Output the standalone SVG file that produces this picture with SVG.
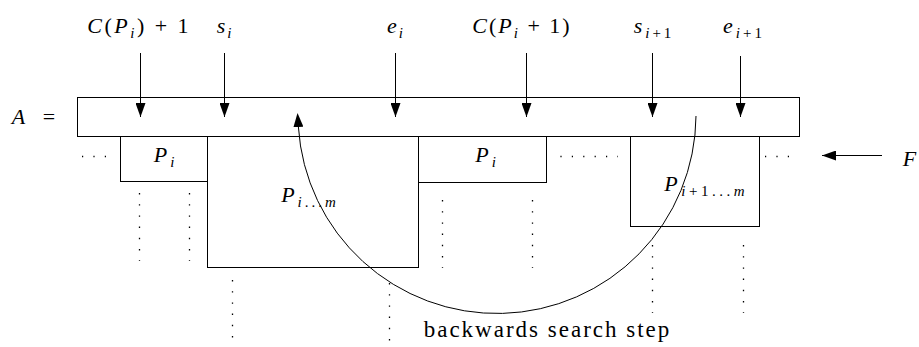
<svg xmlns="http://www.w3.org/2000/svg" width="919" height="347" viewBox="0 0 919 347">
<style>
.box { fill: none; stroke: #000; stroke-width: 1; }
.arr { fill: none; stroke: #000; stroke-width: 1; marker-end: url(#ah); }
.dot { fill: none; stroke: #000; stroke-width: 1.3; stroke-dasharray: 1.2 10.2; }
.vdot { fill: none; stroke: #000; stroke-width: 1.3; stroke-dasharray: 1.4 9.8; }
</style>
<defs>
<marker id="ah" markerWidth="14" markerHeight="10" refX="14" refY="5" orient="auto" markerUnits="userSpaceOnUse">
<path d="M0,0 L14,5 L0,10 z" fill="#000"/>
</marker>
<marker id="ah0" markerWidth="14" markerHeight="10" refX="0" refY="5" orient="auto" markerUnits="userSpaceOnUse">
<path d="M0,0 L14,5 L0,10 z" fill="#000"/>
</marker>
</defs>
<rect width="919" height="347" fill="#fff"/>

<g font-family="Liberation Serif" font-size="22" fill="#000" text-anchor="middle">
<g id="labels-top">
<text x="139.2" y="33" letter-spacing="2.5"><tspan font-style="italic">C</tspan>(<tspan font-style="italic">P</tspan><tspan font-style="italic" font-size="15" dy="4.5">i</tspan><tspan dy="-4.5">) + 1</tspan></text>
<text x="225" y="33" letter-spacing="2"><tspan font-style="italic">s</tspan><tspan font-style="italic" font-size="15" dy="4.5">i</tspan></text>
<text x="396" y="33" letter-spacing="2"><tspan font-style="italic">e</tspan><tspan font-style="italic" font-size="15" dy="4.5">i</tspan></text>
<text x="522" y="33" letter-spacing="2"><tspan font-style="italic">C</tspan>(<tspan font-style="italic">P</tspan><tspan font-style="italic" font-size="15" dy="4.5">i</tspan><tspan dy="-4.5"> + 1)</tspan></text>
<text x="654" y="33" letter-spacing="3"><tspan font-style="italic">s</tspan><tspan font-size="15" dy="4.5"><tspan font-style="italic">i</tspan>+1</tspan></text>
<text x="744" y="33" letter-spacing="3"><tspan font-style="italic">e</tspan><tspan font-size="15" dy="4.5"><tspan font-style="italic">i</tspan>+1</tspan></text>
</g>

<g id="array-A">
<text x="36.5" y="124" letter-spacing="6"><tspan font-style="italic">A</tspan> =</text>
<rect class="box" x="77.5" y="97.5" width="722" height="39"/>
</g>

<g id="box-Pi-left">
<rect class="box" x="120.5" y="136.5" width="87" height="45"/>
<text x="165.5" y="162" letter-spacing="3"><tspan font-style="italic">P</tspan><tspan font-style="italic" font-size="15" dy="4.5">i</tspan></text>
</g>

<g id="box-Pim">
<rect class="box" x="207.5" y="136.5" width="211" height="131"/>
<text x="310" y="202" letter-spacing="3"><tspan font-style="italic">P</tspan><tspan font-size="15" dy="4.5"><tspan font-style="italic">i</tspan>...<tspan font-style="italic">m</tspan></tspan></text>
</g>

<g id="box-Pi-mid">
<rect class="box" x="418.5" y="136.5" width="128" height="46"/>
<text x="487" y="162" letter-spacing="3"><tspan font-style="italic">P</tspan><tspan font-style="italic" font-size="15" dy="4.5">i</tspan></text>
</g>

<g id="box-Pi1m">
<rect class="box" x="630.5" y="136.5" width="129" height="90"/>
<text x="706.2" y="191" letter-spacing="3.5"><tspan font-style="italic">P</tspan><tspan font-size="15" dy="4.5"><tspan font-style="italic">i</tspan>+1...<tspan font-style="italic">m</tspan></tspan></text>
</g>

<g id="label-F">
<text x="909.5" y="166" font-style="italic">F</text>
</g>

<g id="label-step">
<text x="547.5" y="337" font-size="23" letter-spacing="2">backwards search step</text>
</g>
</g>

<g id="connectors">
<line class="arr" x1="140.5" y1="53" x2="140.5" y2="117"/>
<line class="arr" x1="224.5" y1="53" x2="224.5" y2="117"/>
<line class="arr" x1="395.5" y1="53" x2="395.5" y2="117"/>
<line class="arr" x1="526.5" y1="53" x2="526.5" y2="117"/>
<line class="arr" x1="652.5" y1="53" x2="652.5" y2="117"/>
<line class="arr" x1="740.5" y1="56" x2="740.5" y2="117"/>
<line class="arr" x1="882" y1="155.5" x2="822" y2="155.5"/>
<path d="M696 116 A199 199 0 0 1 298.4 127" fill="none" stroke="#000" stroke-width="1" marker-end="url(#ah0)"/>

<path class="dot" d="M82 156.5 H107"/>
<path class="dot" d="M560.4 156.5 H618"/>
<path class="dot" d="M765 156.5 H791"/>

<path class="vdot" d="M139.5 193 V261"/>
<path class="vdot" d="M189.5 193 V261"/>
<path class="vdot" d="M232.5 280 V347"/>
<path class="vdot" d="M389.5 283 V347"/>
<path class="vdot" d="M442.5 200 V268"/>
<path class="vdot" d="M532.5 200 V268"/>
<path class="vdot" d="M652.5 245 V313"/>
<path class="vdot" d="M743.5 245 V313"/>
</g>
</svg>
